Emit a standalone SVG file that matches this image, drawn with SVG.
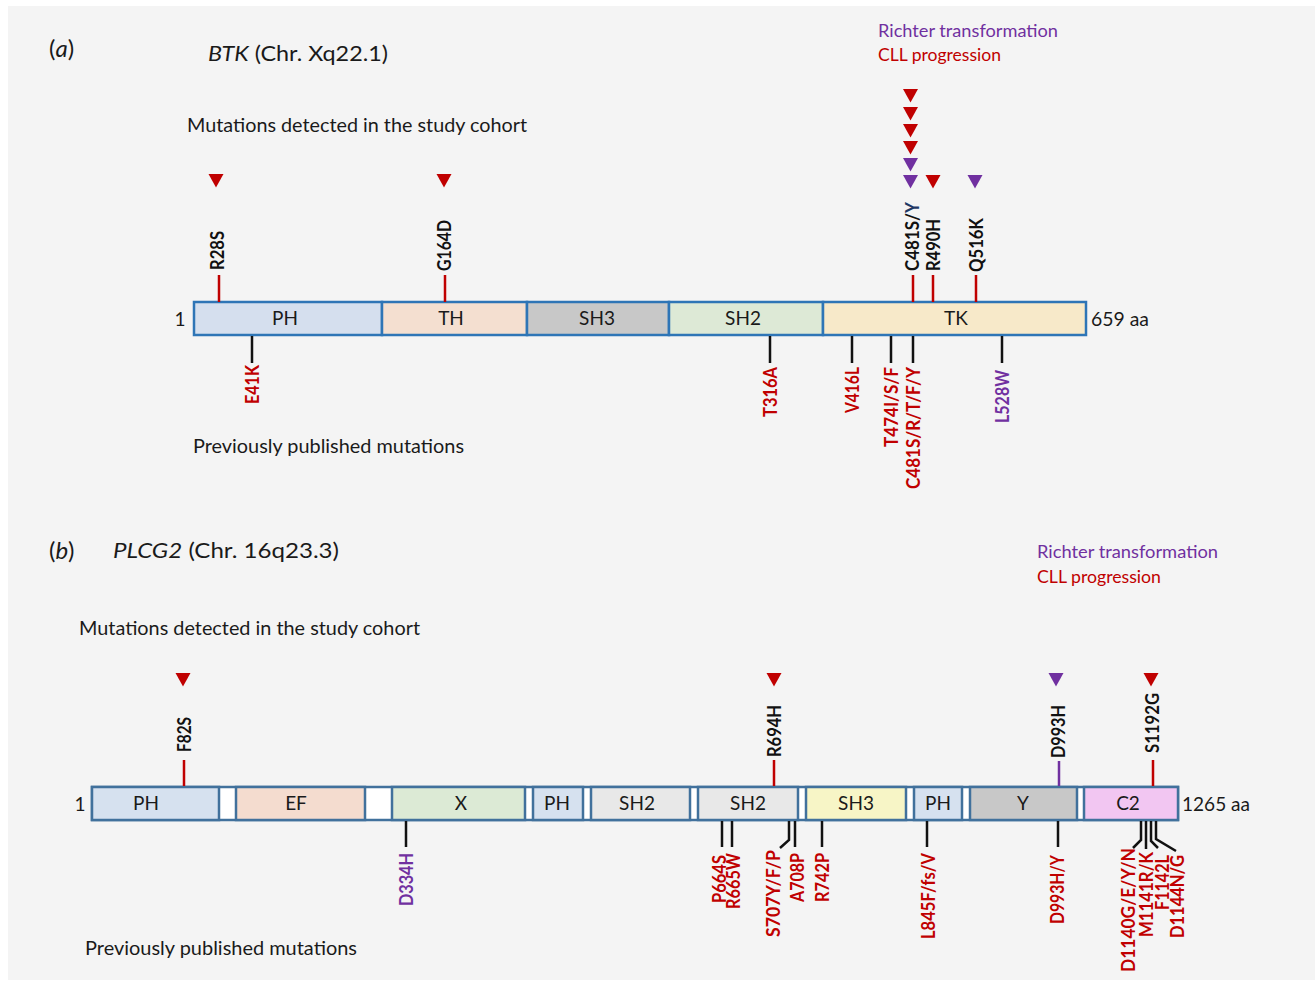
<svg xmlns="http://www.w3.org/2000/svg" xmlns:xlink="http://www.w3.org/1999/xlink" width="1315" height="983" viewBox="0 0 1315 983">
<defs>
<style>
.txt{font-family:Lato,"Liberation Sans",sans-serif;fill:#1a1a1a}
.main{font-size:19px}
.title{font-size:21px}
.pl{font-size:24px}
.leg{font-size:17px}
.dom{font-size:19px;text-anchor:middle}
.aa{font-size:19px}
.mut{font-family:Lato,"Liberation Sans",sans-serif;font-weight:bold;font-size:19px}
.blk{fill:#111}
.red{fill:#c00000}
.pur{fill:#7030a0}
.btkdom{stroke:#2e75b6;stroke-width:2.5}
.pldom{stroke:#41719c;stroke-width:2.5}
.lr{stroke:#c00000;stroke-width:2.5;fill:none}
.lp{stroke:#7030a0;stroke-width:2.5;fill:none}
.lk{stroke:#111;stroke-width:2.5;fill:none}
</style>
<path id="tri" d="M-7.5,0 L7.5,0 L0,13.5 Z"/>
</defs>
<rect x="0" y="0" width="1315" height="983" fill="#ffffff"/>
<rect x="8" y="6" width="1307" height="974" fill="#f4f4f4"/>

<!-- Panel (a) texts -->
<g id="panel-a-header">
<text class="txt pl" x="49" y="57">(<tspan font-style="italic">a</tspan>)</text>
<text class="txt title" x="208" y="61" textLength="180" lengthAdjust="spacingAndGlyphs"><tspan font-style="italic">BTK</tspan> (Chr. Xq22.1)</text>
<text class="txt leg pur" x="878" y="37" textLength="180" lengthAdjust="spacingAndGlyphs">Richter transformation</text>
<text class="txt leg red" x="878" y="61" textLength="123" lengthAdjust="spacingAndGlyphs">CLL progression</text>
<text class="txt main" x="187" y="132" textLength="340" lengthAdjust="spacingAndGlyphs">Mutations detected in the study cohort</text>
<text class="txt main" x="193" y="453" textLength="271" lengthAdjust="spacingAndGlyphs">Previously published mutations</text>
</g>

<!-- BTK protein bar -->
<g id="btk-bar">
<text class="txt dom" x="180" y="326">1</text>
<g id="btk-PH"><rect class="btkdom" x="194" y="302" width="188" height="33" fill="#d5dfee"/><text class="txt dom" x="285" y="325">PH</text></g>
<g id="btk-TH"><rect class="btkdom" x="382" y="302" width="145" height="33" fill="#f4dfd0"/><text class="txt dom" x="451" y="325">TH</text></g>
<g id="btk-SH3"><rect class="btkdom" x="527" y="302" width="142" height="33" fill="#c8c8c8"/><text class="txt dom" x="597" y="325">SH3</text></g>
<g id="btk-SH2"><rect class="btkdom" x="669" y="302" width="154" height="33" fill="#dde9d6"/><text class="txt dom" x="743" y="325">SH2</text></g>
<g id="btk-TK"><rect class="btkdom" x="823" y="302" width="263" height="33" fill="#f7e9c9"/><text class="txt dom" x="956" y="325">TK</text></g>
<text class="txt aa" x="1091" y="326" textLength="58" lengthAdjust="spacingAndGlyphs">659 aa</text>
</g>

<!-- BTK connectors -->
<g id="btk-connectors">
<line class="lr" x1="219" y1="275" x2="219" y2="302"/>
<line class="lr" x1="445" y1="275" x2="445" y2="302"/>
<line class="lr" x1="913" y1="275" x2="913" y2="302"/>
<line class="lr" x1="933" y1="275" x2="933" y2="302"/>
<line class="lr" x1="976" y1="275" x2="976" y2="302"/>
<line class="lk" x1="252" y1="336" x2="252" y2="363"/>
<line class="lk" x1="770" y1="336" x2="770" y2="363"/>
<line class="lk" x1="852" y1="336" x2="852" y2="363"/>
<line class="lk" x1="891" y1="336" x2="891" y2="363"/>
<line class="lk" x1="913" y1="336" x2="913" y2="363"/>
<line class="lk" x1="1002" y1="336" x2="1002" y2="363"/>
</g>

<!-- BTK detected mutations -->
<g id="btk-R28S"><use xlink:href="#tri" x="216" y="174" class="red"/><text class="mut blk" transform="translate(224,270) rotate(-90)" textLength="39" lengthAdjust="spacingAndGlyphs">R28S</text></g>
<g id="btk-G164D"><use xlink:href="#tri" x="444" y="174" class="red"/><text class="mut blk" transform="translate(451,271) rotate(-90)" textLength="51" lengthAdjust="spacingAndGlyphs">G164D</text></g>
<g id="btk-C481SY">
<use xlink:href="#tri" x="910.5" y="89" class="red"/>
<use xlink:href="#tri" x="910.5" y="107" class="red"/>
<use xlink:href="#tri" x="910.5" y="124" class="red"/>
<use xlink:href="#tri" x="910.5" y="141" class="red"/>
<use xlink:href="#tri" x="910.5" y="158" class="pur"/>
<use xlink:href="#tri" x="910.5" y="175" class="pur"/>
<text class="mut blk" transform="translate(919,271) rotate(-90)" textLength="69" lengthAdjust="spacingAndGlyphs">C481S/<tspan fill="#1f3864">Y</tspan></text></g>
<g id="btk-R490H"><use xlink:href="#tri" x="933" y="175" class="red"/><text class="mut blk" transform="translate(940,271) rotate(-90)" textLength="52" lengthAdjust="spacingAndGlyphs">R490H</text></g>
<g id="btk-Q516K"><use xlink:href="#tri" x="975" y="175" class="pur"/><text class="mut blk" transform="translate(983,272) rotate(-90)" textLength="54" lengthAdjust="spacingAndGlyphs">Q516K</text></g>

<!-- BTK published mutations -->
<g id="btk-E41K"><text class="mut red" text-anchor="end" transform="translate(259,365) rotate(-90)" textLength="39" lengthAdjust="spacingAndGlyphs">E41K</text></g>
<g id="btk-T316A"><text class="mut red" text-anchor="end" transform="translate(777,367) rotate(-90)" textLength="50" lengthAdjust="spacingAndGlyphs">T316A</text></g>
<g id="btk-V416L"><text class="mut red" text-anchor="end" transform="translate(859,367) rotate(-90)" textLength="46" lengthAdjust="spacingAndGlyphs">V416L</text></g>
<g id="btk-T474"><text class="mut red" text-anchor="end" transform="translate(898,367) rotate(-90)" textLength="80" lengthAdjust="spacingAndGlyphs">T474I/S/F</text></g>
<g id="btk-C481"><text class="mut red" text-anchor="end" transform="translate(920,367) rotate(-90)" textLength="122" lengthAdjust="spacingAndGlyphs">C481S/R/T/F/Y</text></g>
<g id="btk-L528W"><text class="mut pur" text-anchor="end" transform="translate(1009,370) rotate(-90)" textLength="53" lengthAdjust="spacingAndGlyphs">L528W</text></g>

<!-- Panel (b) texts -->
<g id="panel-b-header">
<text class="txt pl" x="49" y="559">(<tspan font-style="italic">b</tspan>)</text>
<text class="txt title" x="113" y="558" textLength="226" lengthAdjust="spacingAndGlyphs"><tspan font-style="italic">PLCG2</tspan>  (Chr. 16q23.3)</text>
<text class="txt leg pur" x="1037" y="558" textLength="181" lengthAdjust="spacingAndGlyphs">Richter transformation</text>
<text class="txt leg red" x="1037" y="583" textLength="124" lengthAdjust="spacingAndGlyphs">CLL progression</text>
<text class="txt main" x="79" y="635" textLength="341" lengthAdjust="spacingAndGlyphs">Mutations detected in the study cohort</text>
<text class="txt main" x="85" y="955" textLength="272" lengthAdjust="spacingAndGlyphs">Previously published mutations</text>
</g>

<!-- PLCG2 protein bar -->
<g id="plcg2-bar">
<text class="txt dom" x="80" y="811">1</text>
<rect class="pldom" x="92" y="787" width="1086" height="33" fill="#ffffff"/>
<g id="pl-PH1"><rect class="pldom" x="92" y="787" width="127" height="33" fill="#d6e1ef"/><text class="txt dom" x="146" y="810">PH</text></g>
<g id="pl-EF"><rect class="pldom" x="236" y="787" width="129" height="33" fill="#f4dccf"/><text class="txt dom" x="296" y="810">EF</text></g>
<g id="pl-X"><rect class="pldom" x="392" y="787" width="133" height="33" fill="#dcead5"/><text class="txt dom" x="461" y="810">X</text></g>
<g id="pl-PH2"><rect class="pldom" x="533" y="787" width="50" height="33" fill="#d6e1ef"/><text class="txt dom" x="557" y="810">PH</text></g>
<g id="pl-SH2a"><rect class="pldom" x="591" y="787" width="99" height="33" fill="#e8e8e8"/><text class="txt dom" x="637" y="810">SH2</text></g>
<g id="pl-SH2b"><rect class="pldom" x="698" y="787" width="100" height="33" fill="#e8e8e8"/><text class="txt dom" x="748" y="810">SH2</text></g>
<g id="pl-SH3"><rect class="pldom" x="806" y="787" width="100" height="33" fill="#f7f5c6"/><text class="txt dom" x="856" y="810">SH3</text></g>
<g id="pl-PH3"><rect class="pldom" x="914" y="787" width="48" height="33" fill="#d6e1ef"/><text class="txt dom" x="938" y="810">PH</text></g>
<g id="pl-Y"><rect class="pldom" x="970" y="787" width="107" height="33" fill="#c8c8c8"/><text class="txt dom" x="1023" y="810">Y</text></g>
<g id="pl-C2"><rect class="pldom" x="1084" y="787" width="94" height="33" fill="#f2c6f2"/><text class="txt dom" x="1128" y="810">C2</text></g>
<text class="txt aa" x="1182" y="811" textLength="68" lengthAdjust="spacingAndGlyphs">1265 aa</text>
</g>

<!-- PLCG2 connectors -->
<g id="plcg2-connectors">
<line class="lr" x1="184" y1="760" x2="184" y2="786"/>
<line class="lr" x1="774" y1="760" x2="774" y2="786"/>
<line class="lp" x1="1059" y1="761" x2="1059" y2="786"/>
<line class="lr" x1="1153" y1="760" x2="1153" y2="786"/>
<line class="lk" x1="406" y1="821" x2="406" y2="847"/>
<line class="lk" x1="722" y1="821" x2="722" y2="847"/>
<line class="lk" x1="732" y1="821" x2="732" y2="847"/>
<polyline class="lk" points="789,821 789,840 780,848"/>
<line class="lk" x1="795" y1="821" x2="795" y2="847"/>
<line class="lk" x1="822" y1="821" x2="822" y2="847"/>
<line class="lk" x1="927" y1="821" x2="927" y2="847"/>
<line class="lk" x1="1058" y1="821" x2="1058" y2="847"/>
<polyline class="lk" points="1141,821 1141,840 1133,848"/>
<line class="lk" x1="1146" y1="821" x2="1146" y2="849"/>
<polyline class="lk" points="1151,821 1151,841 1158,848"/>
<polyline class="lk" points="1156,821 1156,839 1176,851"/>
</g>

<!-- PLCG2 detected mutations -->
<g id="pl-F82S"><use xlink:href="#tri" x="183" y="673" class="red"/><text class="mut blk" transform="translate(191,752) rotate(-90)" textLength="35" lengthAdjust="spacingAndGlyphs">F82S</text></g>
<g id="pl-R694H"><use xlink:href="#tri" x="774" y="673" class="red"/><text class="mut blk" transform="translate(781,757) rotate(-90)" textLength="52" lengthAdjust="spacingAndGlyphs">R694H</text></g>
<g id="pl-D993H"><use xlink:href="#tri" x="1056" y="673" class="pur"/><text class="mut blk" transform="translate(1065,758) rotate(-90)" textLength="53" lengthAdjust="spacingAndGlyphs">D993H</text></g>
<g id="pl-S1192G"><use xlink:href="#tri" x="1151" y="673" class="red"/><text class="mut blk" transform="translate(1159,753) rotate(-90)" textLength="60" lengthAdjust="spacingAndGlyphs">S1192G</text></g>

<!-- PLCG2 published mutations -->
<g id="pl-D334H"><text class="mut pur" text-anchor="end" transform="translate(413,853) rotate(-90)" textLength="53" lengthAdjust="spacingAndGlyphs">D334H</text></g>
<g id="pl-P664S"><text class="mut red" text-anchor="end" transform="translate(726,855) rotate(-90)" textLength="48" lengthAdjust="spacingAndGlyphs">P664S</text></g>
<g id="pl-R665W"><text class="mut red" text-anchor="end" transform="translate(740,853) rotate(-90)" textLength="56" lengthAdjust="spacingAndGlyphs">R665W</text></g>
<g id="pl-S707"><text class="mut red" text-anchor="end" transform="translate(780,850) rotate(-90)" textLength="87" lengthAdjust="spacingAndGlyphs">S707Y/F/P</text></g>
<g id="pl-A708P"><text class="mut red" text-anchor="end" transform="translate(804,853) rotate(-90)" textLength="49" lengthAdjust="spacingAndGlyphs">A708P</text></g>
<g id="pl-R742P"><text class="mut red" text-anchor="end" transform="translate(829,853) rotate(-90)" textLength="49" lengthAdjust="spacingAndGlyphs">R742P</text></g>
<g id="pl-L845"><text class="mut red" text-anchor="end" transform="translate(935,853) rotate(-90)" textLength="86" lengthAdjust="spacingAndGlyphs">L845F/fs/V</text></g>
<g id="pl-D993HY"><text class="mut red" text-anchor="end" transform="translate(1064,855) rotate(-90)" textLength="69" lengthAdjust="spacingAndGlyphs">D993H/Y</text></g>
<g id="pl-D1140"><text class="mut red" text-anchor="end" transform="translate(1135,848) rotate(-90)" textLength="124" lengthAdjust="spacingAndGlyphs">D1140G/E/Y/N</text></g>
<g id="pl-M1141"><text class="mut red" text-anchor="end" transform="translate(1153,852) rotate(-90)" textLength="85" lengthAdjust="spacingAndGlyphs">M1141R/K</text></g>
<g id="pl-F1142L"><text class="mut red" text-anchor="end" transform="translate(1169,855) rotate(-90)" textLength="55" lengthAdjust="spacingAndGlyphs">F1142L</text></g>
<g id="pl-D1144"><text class="mut red" text-anchor="end" transform="translate(1184,855) rotate(-90)" textLength="83" lengthAdjust="spacingAndGlyphs">D1144N/G</text></g>
</svg>
